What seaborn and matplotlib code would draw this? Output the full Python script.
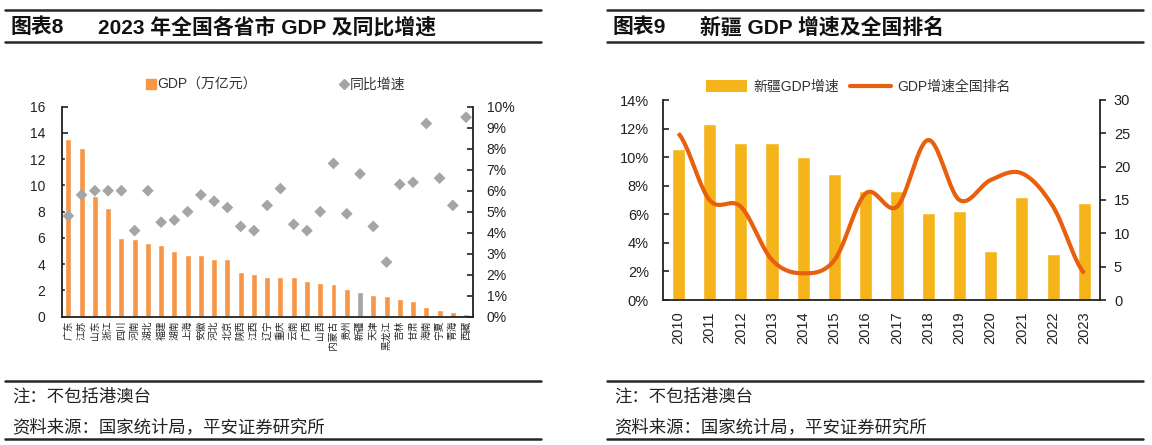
import numpy as np
import pandas as pd
import matplotlib
matplotlib.use("Agg")
import matplotlib.pyplot as plt
import seaborn as sns
from matplotlib.lines import Line2D
from matplotlib.patches import Patch
from matplotlib.ticker import FixedLocator, PercentFormatter

# 数据
provinces = ["广东", "江苏", "山东", "浙江", "四川", "河南", "湖北", "福建", "湖南", "上海",
             "安徽", "河北", "北京", "陕西", "江西", "辽宁", "重庆", "云南", "广西", "山西",
             "内蒙古", "贵州", "新疆", "天津", "黑龙江", "吉林", "甘肃", "海南", "宁夏", "青海", "西藏"]
gdp = [13.57, 12.82, 9.21, 8.26, 6.01, 5.91, 5.58, 5.44, 5.00, 4.72,
       4.71, 4.39, 4.38, 3.38, 3.22, 3.02, 3.01, 3.00, 2.72, 2.57,
       2.46, 2.09, 1.91, 1.67, 1.59, 1.35, 1.19, 0.76, 0.53, 0.38, 0.24]
growth = [4.8, 5.8, 6.0, 6.0, 6.0, 4.1, 6.0, 4.5, 4.6, 5.0,
          5.8, 5.5, 5.2, 4.3, 4.1, 5.3, 6.1, 4.4, 4.1, 5.0,
          7.3, 4.9, 6.8, 4.3, 2.6, 6.3, 6.4, 9.2, 6.6, 5.3, 9.5]

years = [str(y) for y in range(2010, 2024)]
xj_growth = [10.6, 12.3, 11.0, 11.0, 10.0, 8.8, 7.6, 7.6, 6.1, 6.2, 3.4, 7.2, 3.2, 6.8]
xj_rank = [25, 15, 14, 6, 4, 6, 16, 14, 24, 15, 18, 19, 14, 4]

ORANGE = "#F79646"
GRAY = "#A5A5A5"
GOLD = "#F6B41B"
RED_ORANGE = "#E8600E"

sns.set_style("white")
plt.rcParams["font.family"] = ["Liberation Sans", "Noto Sans CJK SC", "DejaVu Sans"]
plt.rcParams["axes.unicode_minus"] = False

W, H = 1152, 445
fig = plt.figure(figsize=(W / 100, H / 100), dpi=100)


def fx(px):
    return px / W


def fy(py):
    return 1 - py / H


def hline(x0, x1, y, lw=1.6):
    fig.add_artist(Line2D([fx(x0), fx(x1)], [fy(y), fy(y)], color="#262626", lw=lw,
                          transform=fig.transFigure))


def smooth(xs, ys, n=24):
    # Catmull-Rom 平滑曲线（类似 Excel 平滑线）
    xs = np.asarray(xs, float)
    ys = np.asarray(ys, float)
    ox, oy = [], []
    for i in range(len(xs) - 1):
        p0 = ys[i - 1] if i > 0 else ys[i]
        p1, p2 = ys[i], ys[i + 1]
        p3 = ys[i + 2] if i + 2 < len(ys) else ys[i + 1]
        t = np.linspace(0, 1, n, endpoint=False)
        yy = 0.5 * ((2 * p1) + (-p0 + p2) * t + (2 * p0 - 5 * p1 + 4 * p2 - p3) * t ** 2
                    + (-p0 + 3 * p1 - 3 * p2 + p3) * t ** 3)
        ox.extend(xs[i] + (xs[i + 1] - xs[i]) * t)
        oy.extend(yy)
    ox.append(xs[-1])
    oy.append(ys[-1])
    return np.array(ox), np.array(oy)


# 标题与页脚
for x0, x1, num, title in [(5, 541, "图表8", "2023 年全国各省市 GDP 及同比增速"),
                           (607, 1143, "图表9", "新疆 GDP 增速及全国排名")]:
    hline(x0, x1, 10, 1.8)
    hline(x0, x1, 42, 1.8)
    fig.text(fx(x0 + 6), fy(27), num, fontsize=15, va="center", ha="left",
             fontweight="bold", color="#111111")
    fig.text(fx(x0 + 93), fy(27), title, fontsize=15, va="center", ha="left",
             fontweight="bold", color="#111111")
    hline(x0, x1, 381, 1.8)
    hline(x0, x1, 439, 1.8)
    fig.text(fx(x0 + 7), fy(396), "注：不包括港澳台", fontsize=12.5, va="center", ha="left",
             style="italic", color="#222222")
    fig.text(fx(x0 + 7), fy(427), "资料来源：国家统计局，平安证券研究所", fontsize=12.5, va="center",
             ha="left", style="italic", color="#222222")

# ---------- 图表8 ----------
ax = fig.add_axes([fx(61.7), fy(316.7), fx(472.7 - 61.7), (316.7 - 106.7) / H])
bar_colors = [GRAY if p == "新疆" else ORANGE for p in provinces]
sns.barplot(x=provinces, y=gdp, hue=provinces, palette=bar_colors, legend=False,
            width=0.45, saturation=1, ax=ax)
ax.set_ylim(0, 16)
ax.set_yticks(range(0, 17, 2))
ax.set_xlim(-0.5, len(provinces) - 0.5)
ax.set_xlabel("")
ax.set_ylabel("")
ax.tick_params(axis="x", length=0, pad=3, labelsize=7, labelrotation=90)
for lab in ax.get_xticklabels():
    lab.set_va("top")
    lab.set_ha("center")
ax.xaxis.set_minor_locator(FixedLocator(np.arange(-0.5, len(provinces), 1)))
ax.tick_params(axis="x", which="minor", direction="in", length=4, width=1.2, color="#222222")
ax.tick_params(axis="y", direction="in", length=4, width=1.2, pad=12, labelsize=10,
               colors="#222222", left=True)

ax2 = ax.twinx()
sns.scatterplot(x=np.arange(len(provinces)), y=growth, marker="D", color=GRAY, s=36,
                edgecolor="none", ax=ax2)
ax2.set_ylim(0, 10)
ax2.set_yticks(range(0, 11))
ax2.yaxis.set_major_formatter(PercentFormatter(decimals=0))
ax2.tick_params(axis="y", direction="in", length=4, width=1.2, pad=10, labelsize=10,
                colors="#222222", right=True)
ax.set_xlim(-0.5, len(provinces) - 0.5)
for a in (ax, ax2):
    for s in ("left", "right", "bottom"):
        a.spines[s].set_color("#222222")
        a.spines[s].set_linewidth(1.3)
    a.spines["top"].set_visible(False)
    a.set_ylabel("")
ax.spines["right"].set_visible(False)
ax2.spines["left"].set_visible(False)
ax2.spines["bottom"].set_visible(False)

h1 = [Line2D([], [], marker="s", color=ORANGE, linestyle="none", markersize=7),
      Line2D([], [], marker="D", color=GRAY, linestyle="none", markersize=5)]
fig.legend(h1, ["GDP（万亿元）", "同比增速"], loc="center", bbox_to_anchor=(fx(276), fy(85)),
           ncol=2, frameon=False, fontsize=10, handlelength=0.6, handletextpad=0.15,
           columnspacing=6.0, labelcolor="#333333")

# ---------- 图表9 ----------
bx = fig.add_axes([fx(662.7), fy(300), fx(1100 - 662.7), 200 / H])
sns.barplot(x=years, y=xj_growth, color=GOLD, width=0.42, saturation=1, ax=bx)
bx.set_ylim(0, 14)
bx.set_yticks(range(0, 15, 2))
bx.yaxis.set_major_formatter(PercentFormatter(decimals=0))
bx.set_xlim(-0.5, len(years) - 0.5)
bx.set_xlabel("")
bx.set_ylabel("")
bx.tick_params(axis="x", length=0, pad=8, labelsize=10.5, labelrotation=90, colors="#222222")
bx.xaxis.set_minor_locator(FixedLocator(np.arange(-0.5, len(years), 1)))
bx.tick_params(axis="x", which="minor", direction="in", length=4, width=1.2, color="#222222")
bx.tick_params(axis="y", direction="in", length=4, width=1.2, pad=10, labelsize=10.5,
               colors="#222222", left=True)

bx2 = bx.twinx()
sx, sy = smooth(np.arange(len(years)), xj_rank)
bx2.plot(sx, sy, color=RED_ORANGE, lw=3, solid_capstyle="butt")
bx2.set_ylim(0, 30)
bx2.set_yticks(range(0, 31, 5))
bx2.tick_params(axis="y", direction="out", length=4, width=1.2, pad=6, labelsize=10.5,
                colors="#222222", right=True)
bx.set_xlim(-0.5, len(years) - 0.5)
for a in (bx, bx2):
    for s in ("left", "right", "bottom"):
        a.spines[s].set_color("#222222")
        a.spines[s].set_linewidth(1.3)
    a.spines["top"].set_visible(False)
bx.spines["right"].set_visible(False)
bx2.spines["left"].set_visible(False)
bx2.spines["bottom"].set_visible(False)

h2 = [Patch(facecolor=GOLD, edgecolor="none"), Line2D([], [], color=RED_ORANGE, lw=3)]
fig.legend(h2, ["新疆GDP增速", "GDP增速全国排名"], loc="center", bbox_to_anchor=(fx(858), fy(87)),
           ncol=2, frameon=False, fontsize=10, handlelength=3.0, handleheight=0.9,
           handletextpad=0.4, columnspacing=0.8, labelcolor="#333333")

fig.savefig("out.png", dpi=100)
